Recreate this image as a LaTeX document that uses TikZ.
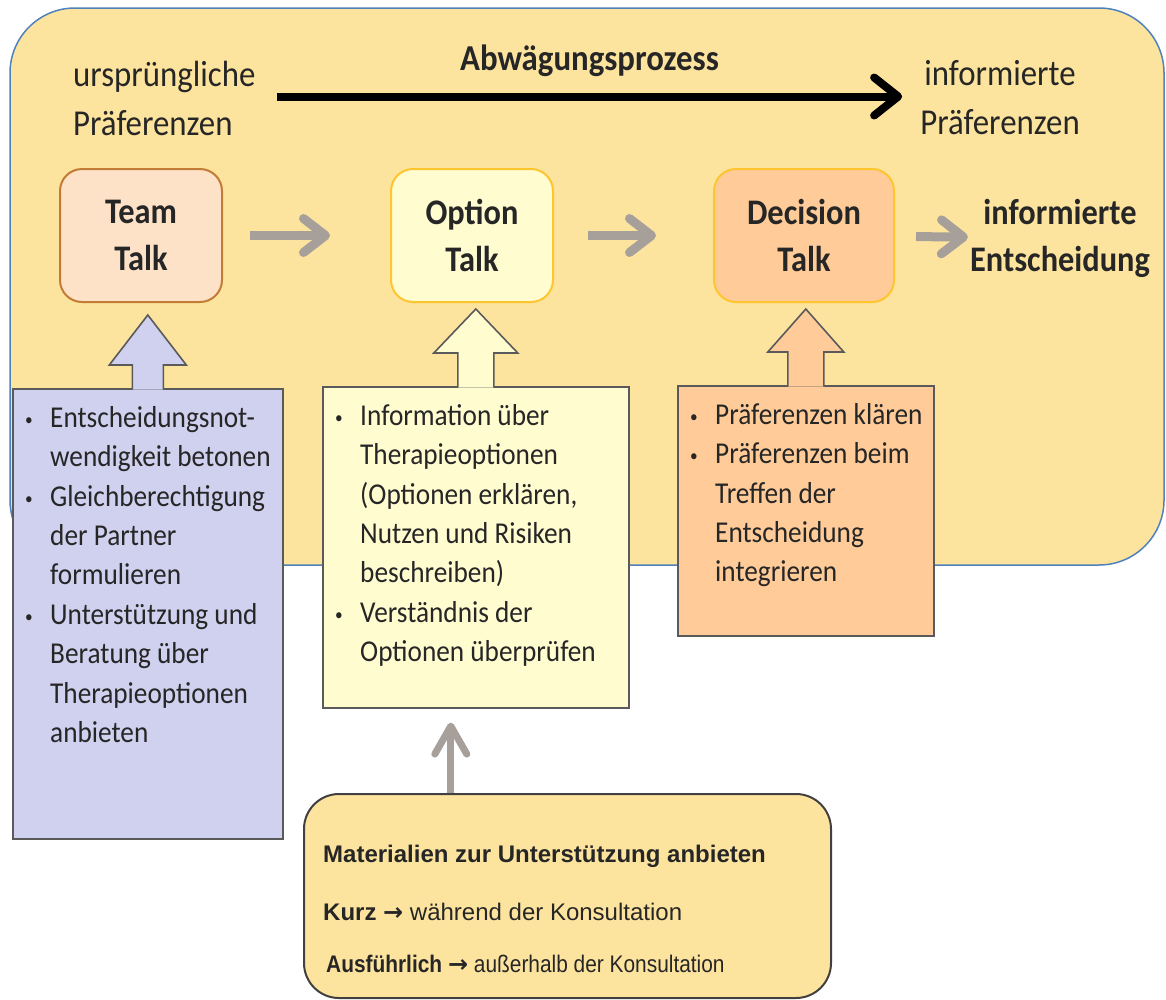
\documentclass[tikz,border=0pt]{standalone}
\usepackage{fontspec}
\setmainfont{Carlito}[FakeStretch=0.9]
\newfontfamily\arialfont{Liberation Sans}
\newfontfamily\arialnarrow{Liberation Sans}[FakeStretch=0.87]
\newfontfamily\arrowfont{DejaVu Sans}
\usetikzlibrary{arrows.meta,positioning}

\definecolor{panelfill}{HTML}{FDE49E}
\definecolor{panelline}{HTML}{4F81BD}
\definecolor{teamfill}{HTML}{FDE2C8}
\definecolor{teamline}{HTML}{C27C36}
\definecolor{optionfill}{HTML}{FFFCD0}
\definecolor{goldline}{HTML}{FFC52E}
\definecolor{decisionfill}{HTML}{FFCB98}
\definecolor{lavender}{HTML}{D0D0EF}
\definecolor{noteline}{HTML}{5A5A5A}
\definecolor{flowgray}{HTML}{A7A09A}
\definecolor{inktext}{HTML}{262626}

\newcommand{\bul}{\makebox[28pt][l]{\hspace{3pt}\raisebox{2pt}{\fontsize{17}{17}\selectfont\textbullet}}}
\newcommand{\ind}{\hspace*{28pt}}
\newcommand{\thenarrow}{{\arrowfont\bfseries →}}

\begin{document}
\begin{tikzpicture}[x=1pt,y=-1pt,
  every node/.style={inner sep=0pt,text=inktext},
  talkbox/.style={draw,line width=2pt,rounded corners=22pt,minimum height=133pt,
    align=center,font=\fontsize{36}{47}\selectfont\bfseries},
  notebox/.style={draw=noteline,line width=1.6pt,anchor=north west},
  notearrow/.style={draw=noteline,line width=1.6pt,line join=miter},
  notetext/.style={anchor=north west,align=left,font=\fontsize{30.3}{39.4}\selectfont},
  flowarrow/.style={draw=flowgray,line width=9pt,-{Straight Barb[round,length=22pt,width=34pt]}},
  toptext/.style={font=\fontsize{36.5}{49}\selectfont}]
\useasboundingbox (0,0) rectangle (1166,999);

% background panel
\draw[panelline,line width=1.5pt,fill=panelfill,rounded corners=65pt] (10,8) rectangle (1164,565);

% headline
\node[toptext,anchor=north west,align=left] (origpref) at (73,61) {ursprüngliche\\Präferenzen};
\node[toptext,anchor=north,align=center] (infpref) at (1000,60) {informierte\\Präferenzen};
\node[toptext,anchor=base,font=\fontsize{36.5}{49}\selectfont\bfseries] (weighing) at (589.5,70) {Abwägungsprozess};
\draw[line width=8pt,shorten <=21pt,shorten >=18pt,-{Straight Barb[round,length=24pt,width=38pt]}]
  ([yshift=2pt]origpref.east) -- ([yshift=2pt]origpref.east -| infpref.west);

% the three talks
\node[talkbox,draw=teamline,fill=teamfill,minimum width=162pt] (team) at (141,235.5) {Team\\Talk};
\node[talkbox,draw=goldline,fill=optionfill,minimum width=162pt] (option) at (472,235.5) {Option\\Talk};
\node[talkbox,draw=goldline,fill=decisionfill,minimum width=180pt] (decision) at (804,235.5) {Decision\\Talk};
\node[align=center,font=\fontsize{36}{47}\selectfont\bfseries] (decres) at (1060,238) {informierte\\Entscheidung};

\draw[flowarrow,shorten <=27pt,shorten >=60pt] (team) -- (option);
\draw[flowarrow,shorten <=34pt,shorten >=57pt] (option) -- (decision);
\draw[flowarrow,shorten <=21pt,shorten >=2pt] (decision) -- (decres);

% notes below the talks
\node[notebox,fill=lavender,minimum width=270pt,minimum height=450pt] (teamnote) at (12,388) {};
\node[notebox,fill=optionfill,minimum width=306pt,minimum height=321pt] (optionnote) at (322,386) {};
\node[notebox,fill=decisionfill,minimum width=256pt,minimum height=250pt] (decisionnote) at (677,385) {};

\draw[notearrow,fill=lavender] ([xshift=-15.5pt,yshift=-1.5pt]teamnote.north)
  -- ++(0,-24.5) -- ++(-23,0) -- ++(38.5,-50) -- ++(38.5,50) -- ++(-23,0) -- ++(0,24.5);
\draw[notearrow,fill=optionfill] ([xshift=-18pt,yshift=-1.5pt]optionnote.north)
  -- ++(0,-34.5) -- ++(-24,0) -- ++(42,-44) -- ++(42,44) -- ++(-24,0) -- ++(0,34.5);
\draw[notearrow,fill=decisionfill] ([xshift=-18pt,yshift=-1.5pt]decisionnote.north)
  -- ++(0,-34.5) -- ++(-20,0) -- ++(38,-43) -- ++(38,43) -- ++(-20,0) -- ++(0,34.5);

\node[notetext] (teamtext) at ([xshift=10pt,yshift=-18pt]teamnote.north west)
  {\bul Entscheidungsnot-\\\ind wendigkeit betonen\\\bul Gleichberechtigung\\\ind der Partner\\
   \ind formulieren\\\bul Unterstützung und\\\ind Beratung über\\\ind Therapieoptionen\\\ind anbieten};
\node[notetext] (optiontext) at ([xshift=10pt,yshift=-18pt]optionnote.north west)
  {\bul Information über\\\ind Therapieoptionen\\\ind (Optionen erklären,\\\ind Nutzen und Risiken\\
   \ind beschreiben)\\\bul Verständnis der\\\ind Optionen überprüfen};
\node[notetext] (decisiontext) at ([xshift=10pt,yshift=-18pt]decisionnote.north west)
  {\bul Präferenzen klären\\\bul Präferenzen beim\\\ind Treffen der\\\ind Entscheidung\\\ind integrieren};

% materials
\node[draw=black!75,line width=2pt,fill=panelfill,rounded corners=35pt,anchor=north west,
  minimum width=527pt,minimum height=204pt] (material) at (303,793) {};
\node[anchor=base west,font=\arialfont\fontsize{24}{29}\selectfont\bfseries] (mattitle) at (323,862)
  {Materialien zur Unterstützung anbieten};
\node[anchor=base west,font=\arialfont\fontsize{24}{29}\selectfont] (matshort) at (323,920)
  {\textbf{Kurz} \thenarrow{} während der Konsultation};
\node[anchor=base west,font=\arialnarrow\fontsize{24}{29}\selectfont] (matlong) at (326,972)
  {\textbf{Ausführlich} \thenarrow{} außerhalb der Konsultation};

\coordinate (matup) at ([xshift=-25pt]optionnote.south);
\draw[draw=flowgray,line width=7pt,shorten >=14pt,-{Straight Barb[round,length=28pt,width=32pt]}]
  (material.north -| matup) -- (matup);
\end{tikzpicture}
\end{document}
